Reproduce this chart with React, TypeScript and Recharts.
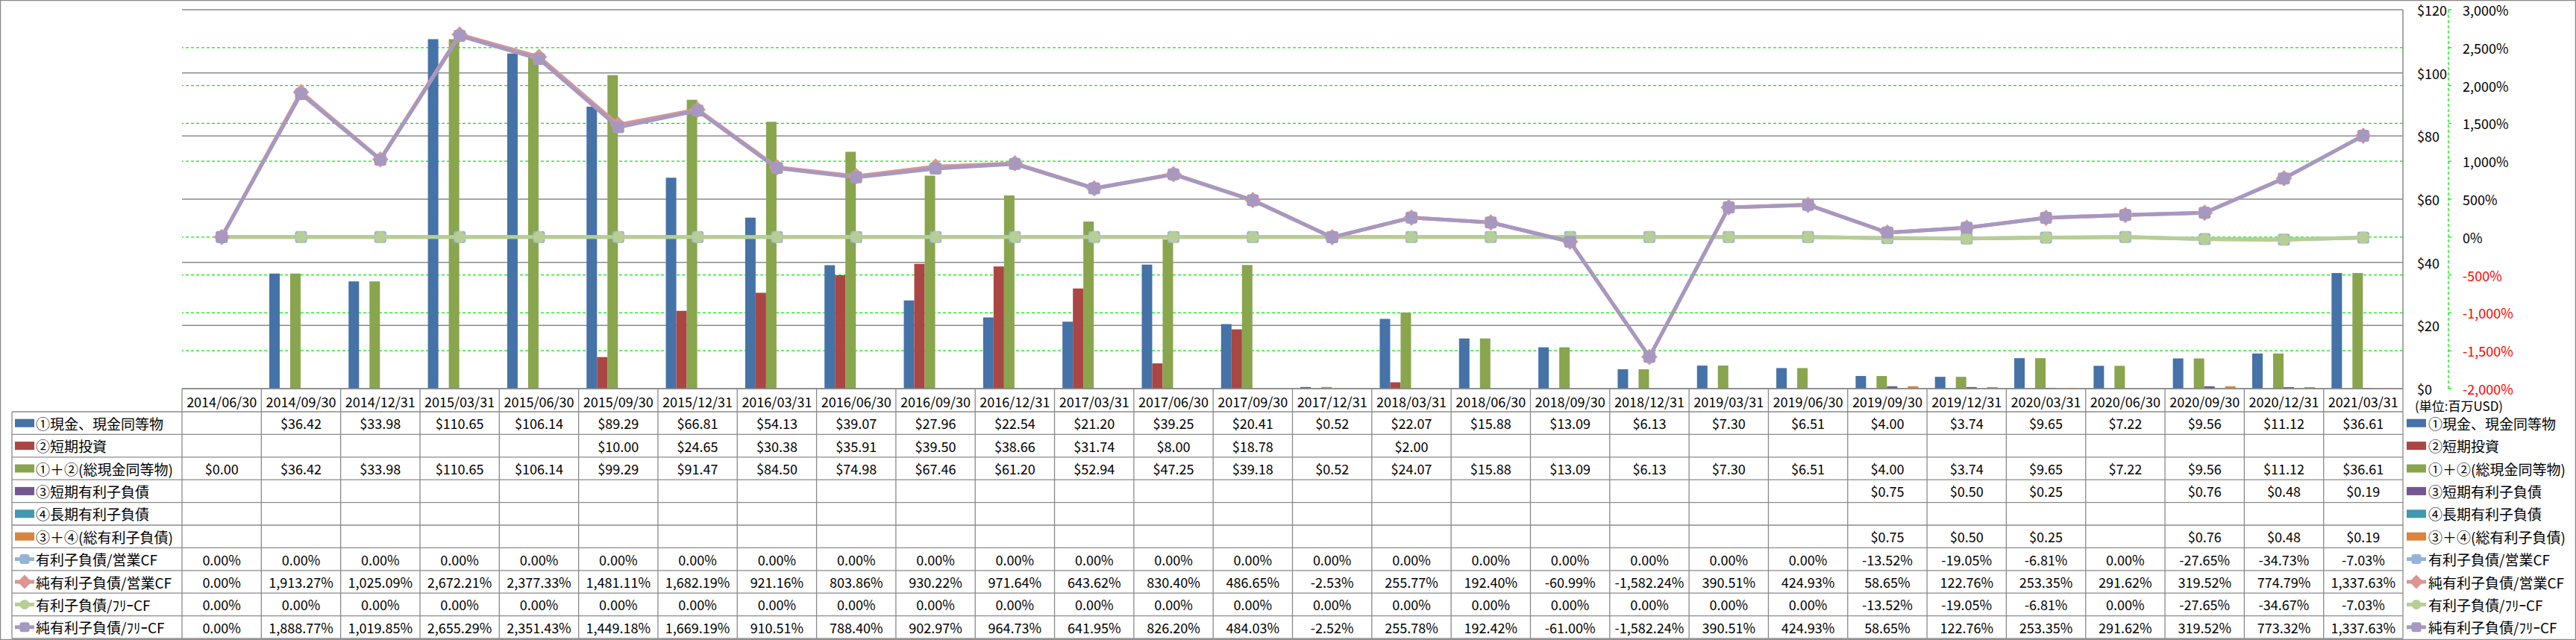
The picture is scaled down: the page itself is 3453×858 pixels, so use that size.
import React from 'react';
import { ComposedChart, Bar, Line, XAxis, YAxis, CartesianGrid, ReferenceLine } from 'recharts';

const dates = [
  '2014/06/30', '2014/09/30', '2014/12/31', '2015/03/31', '2015/06/30', '2015/09/30', '2015/12/31',
  '2016/03/31', '2016/06/30', '2016/09/30', '2016/12/31', '2017/03/31', '2017/06/30', '2017/09/30',
  '2017/12/31', '2018/03/31', '2018/06/30', '2018/09/30', '2018/12/31', '2019/03/31', '2019/06/30',
  '2019/09/30', '2019/12/31', '2020/03/31', '2020/06/30', '2020/09/30', '2020/12/31', '2021/03/31',
];

const cash = [null, 36.42, 33.98, 110.65, 106.14, 89.29, 66.81, 54.13, 39.07, 27.96, 22.54, 21.2, 39.25, 20.41,
  0.52, 22.07, 15.88, 13.09, 6.13, 7.3, 6.51, 4.0, 3.74, 9.65, 7.22, 9.56, 11.12, 36.61];
const shortInvest = [null, null, null, null, null, 10.0, 24.65, 30.38, 35.91, 39.5, 38.66, 31.74, 8.0, 18.78,
  null, 2.0, null, null, null, null, null, null, null, null, null, null, null, null];
const totalCash = [0.0, 36.42, 33.98, 110.65, 106.14, 99.29, 91.47, 84.5, 74.98, 67.46, 61.2, 52.94, 47.25, 39.18,
  0.52, 24.07, 15.88, 13.09, 6.13, 7.3, 6.51, 4.0, 3.74, 9.65, 7.22, 9.56, 11.12, 36.61];
const shortDebt = [null, null, null, null, null, null, null, null, null, null, null, null, null, null,
  null, null, null, null, null, null, null, 0.75, 0.5, 0.25, null, 0.76, 0.48, 0.19];
const longDebt = [null, null, null, null, null, null, null, null, null, null, null, null, null, null,
  null, null, null, null, null, null, null, null, null, null, null, null, null, null];
const totalDebt = [null, null, null, null, null, null, null, null, null, null, null, null, null, null,
  null, null, null, null, null, null, null, 0.75, 0.5, 0.25, null, 0.76, 0.48, 0.19];

const debtOpCF = [0, 0, 0, 0, 0, 0, 0, 0, 0, 0, 0, 0, 0, 0,
  0, 0, 0, 0, 0, 0, 0, -13.52, -19.05, -6.81, 0, -27.65, -34.73, -7.03];
const netDebtOpCF = [0, 1913.27, 1025.09, 2672.21, 2377.33, 1481.11, 1682.19, 921.16, 803.86, 930.22, 971.64, 643.62, 830.4, 486.65,
  -2.53, 255.77, 192.4, -60.99, -1582.24, 390.51, 424.93, 58.65, 122.76, 253.35, 291.62, 319.52, 774.79, 1337.63];
const debtFreeCF = [0, 0, 0, 0, 0, 0, 0, 0, 0, 0, 0, 0, 0, 0,
  0, 0, 0, 0, 0, 0, 0, -13.52, -19.05, -6.81, 0, -27.65, -34.67, -7.03];
const netDebtFreeCF = [0, 1888.77, 1019.85, 2655.29, 2351.43, 1449.18, 1669.19, 910.51, 788.4, 902.97, 964.73, 641.95, 826.2, 484.03,
  -2.52, 255.78, 192.42, -61.0, -1582.24, 390.51, 424.93, 58.65, 122.76, 253.35, 291.62, 319.52, 773.32, 1337.63];

const usdTicks = [0, 20, 40, 60, 80, 100, 120];
const pctTicks = [-2000, -1500, -1000, -500, 0, 500, 1000, 1500, 2000, 2500, 3000];

const rowLabels = [
  '①現金、現金同等物', '②短期投資', '①＋②(総現金同等物)', '③短期有利子負債', '④長期有利子負債',
  '③＋④(総有利子負債)', '有利子負債/営業CF', '純有利子負債/営業CF', '有利子負債/ﾌﾘｰCF', '純有利子負債/ﾌﾘｰCF',
];
const unitLabel = '(単位:百万USD)';

// layout
const W = 3453;
const H = 858;
const PLOT_L = 244;
const PLOT_R = 3221;
const PLOT_T = 13;
const PLOT_B = 521;
const TABLE_TOP = 552;
const ROW_H = 30.4;
const LABEL_L = 16;
const USD_AXIS_W = 61;
const PCT_AXIS_W = 120;
const FONT = "'Noto Sans CJK JP', 'Noto Sans', sans-serif";
const GRID = '#8A8A8A';
const GREEN = '#00EE00';

const USD_DOMAIN = [0, 120];
const PCT_DOMAIN = [-2000, 3000];

const fmtUsd = (v: number) => '$' + v.toFixed(2);
const fmtPct = (v: number) =>
  v.toLocaleString('en-US', { minimumFractionDigits: 2, maximumFractionDigits: 2 }) + '%';

type RowKind = 'bar' | 'square' | 'diamond' | 'circle';
const rows: { key: string; values: (number | null)[]; color: string; kind: RowKind; fmt: (v: number) => string }[] = [
  { key: 'cash', values: cash, color: '#4572A7', kind: 'bar', fmt: fmtUsd },
  { key: 'shortInvest', values: shortInvest, color: '#AA4643', kind: 'bar', fmt: fmtUsd },
  { key: 'totalCash', values: totalCash, color: '#89A54E', kind: 'bar', fmt: fmtUsd },
  { key: 'shortDebt', values: shortDebt, color: '#71588F', kind: 'bar', fmt: fmtUsd },
  { key: 'longDebt', values: longDebt, color: '#4198AF', kind: 'bar', fmt: fmtUsd },
  { key: 'totalDebt', values: totalDebt, color: '#DB843D', kind: 'bar', fmt: fmtUsd },
  { key: 'debtOpCF', values: debtOpCF, color: '#95B3D7', kind: 'square', fmt: fmtPct },
  { key: 'netDebtOpCF', values: netDebtOpCF, color: '#DC9593', kind: 'diamond', fmt: fmtPct },
  { key: 'debtFreeCF', values: debtFreeCF, color: '#B7CE94', kind: 'circle', fmt: fmtPct },
  { key: 'netDebtFreeCF', values: netDebtFreeCF, color: '#A698C0', kind: 'square', fmt: fmtPct },
];

const data = dates.map((d, i) => {
  const o: Record<string, any> = { date: d };
  rows.forEach((r) => (o[r.key] = r.values[i]));
  return o;
});

// dashed % gridlines that do not fall on a solid $ gridline
const pctGridTicks = pctTicks.filter((t) => {
  const asUsd = ((t - PCT_DOMAIN[0]) / (PCT_DOMAIN[1] - PCT_DOMAIN[0])) * (USD_DOMAIN[1] - USD_DOMAIN[0]);
  return !usdTicks.some((u) => Math.abs(u - asUsd) < 0.01);
});

const Marker = ({ kind, cx, cy, color, size = 16 }: { kind: RowKind; cx: number; cy: number; color: string; size?: number }) => {
  const h = size / 2;
  if (kind === 'diamond') {
    const s = h + 3;
    return <polygon points={`${cx},${cy - s} ${cx + s},${cy} ${cx},${cy + s} ${cx - s},${cy}`} fill={color} />;
  }
  if (kind === 'circle') return <ellipse cx={cx} cy={cy} rx={h} ry={h} fill={color} />;
  return <rect x={cx - h} y={cy - h} width={size} height={size} rx={3} fill={color} />;
};

const makeDot = (kind: RowKind, color: string) => (p: any) => {
  if (p.cx == null || p.cy == null || p.value == null) return <g key={`d${p.index}`} />;
  return (
    <g key={`d${p.index}`}>
      <Marker kind={kind} cx={p.cx} cy={p.cy} color={color} />
    </g>
  );
};

const RowIcon = ({ x, y, row }: { x: number; y: number; row: (typeof rows)[number] }) => {
  if (row.kind === 'bar') return <rect x={x} y={y - 5.5} width={26} height={11} fill={row.color} />;
  return (
    <g>
      <line x1={x} x2={x + 26} y1={y} y2={y} stroke={row.color} strokeWidth={5} />
      <Marker kind={row.kind} cx={x + 13} cy={y} color={row.color} size={13} />
    </g>
  );
};

const TableTick = (props: any) => {
  const { x, payload } = props;
  const i = payload.index;
  const band = (PLOT_R - PLOT_L) / dates.length;
  const bottom = TABLE_TOP + ROW_H * rows.length;
  return (
    <g>
      <text x={x} y={(PLOT_B + TABLE_TOP) / 2 + 1} textAnchor="middle" dominantBaseline="central"
        fontSize={18} fontFamily={FONT} fill="#000">{payload.value}</text>
      <line x1={x + band / 2} x2={x + band / 2} y1={PLOT_B} y2={bottom} stroke={GRID} strokeWidth={1.3} />
      {rows.map((r, ri) => {
        const v = r.values[i];
        if (v == null) return null;
        return (
          <text key={r.key} x={x} y={TABLE_TOP + ROW_H * (ri + 0.5)} textAnchor="middle" dominantBaseline="central"
            fontSize={18} fontFamily={FONT} fill="#000">{r.fmt(v)}</text>
        );
      })}
    </g>
  );
};

const PctTick = (p: any) => {
  const v = p.payload.value as number;
  return (
    <text x={p.x} y={p.y} textAnchor="start" dominantBaseline="central" fontSize={18} fontFamily={FONT}
      fill={v < 0 ? '#FF0000' : '#000'}>{v.toLocaleString('en-US') + '%'}</text>
  );
};

const UsdTick = (p: any) => (
  <text x={p.x} y={p.y} textAnchor="start" dominantBaseline="central" fontSize={18} fontFamily={FONT} fill="#000">
    {'$' + p.payload.value}
  </text>
);

const Overlay = () => {
  const bottom = TABLE_TOP + ROW_H * rows.length;
  return (
    <svg width={W} height={H} style={{ position: 'absolute', left: 0, top: 0, pointerEvents: 'none' }}>
      <rect x={0.5} y={0.5} width={W - 1} height={H - 1} fill="none" stroke={GRID} strokeWidth={1.5} />
      <line x1={PLOT_R} x2={PLOT_R} y1={PLOT_T} y2={PLOT_B} stroke={GRID} strokeWidth={1.5} />
      <line x1={LABEL_L} x2={LABEL_L} y1={TABLE_TOP} y2={bottom} stroke={GRID} strokeWidth={1.3} />
      <line x1={PLOT_L} x2={PLOT_L} y1={PLOT_B} y2={bottom} stroke={GRID} strokeWidth={1.3} />
      {rows.map((r, ri) => (
        <line key={'h' + ri} x1={LABEL_L} x2={PLOT_R} y1={TABLE_TOP + ROW_H * ri} y2={TABLE_TOP + ROW_H * ri}
          stroke={GRID} strokeWidth={1.3} />
      ))}
      <line x1={LABEL_L} x2={PLOT_R} y1={bottom} y2={bottom} stroke={GRID} strokeWidth={1.3} />
      {rows.map((r, ri) => {
        const cy = TABLE_TOP + ROW_H * (ri + 0.5);
        return (
          <g key={'l' + ri}>
            <RowIcon x={20} y={cy} row={r} />
            <text x={48} y={cy} dominantBaseline="central" fontSize={19} fontFamily={FONT} fill="#000">{rowLabels[ri]}</text>
            <RowIcon x={3226} y={cy} row={r} />
            <text x={3255} y={cy} dominantBaseline="central" fontSize={19} fontFamily={FONT} fill="#000">{rowLabels[ri]}</text>
          </g>
        );
      })}
      <text x={3237} y={543} dominantBaseline="central" fontSize={17} fontFamily={FONT} fill="#000">{unitLabel}</text>
    </svg>
  );
};

export default function App() {
  const xAxisH = 300;
  return (
    <div style={{ position: 'absolute', left: 0, top: 0, width: W, height: H, background: '#fff' }}>
      <ComposedChart
        width={W}
        height={H}
        data={data}
        barCategoryGap="10%"
        barGap={0}
        margin={{ top: PLOT_T, left: PLOT_L, right: W - PLOT_R - USD_AXIS_W - PCT_AXIS_W, bottom: H - PLOT_B - xAxisH }}
      >
        <CartesianGrid yAxisId="a1" vertical={false} stroke={GRID} strokeWidth={1.5} />
        <XAxis dataKey="date" height={xAxisH} interval={0} tickLine={false} axisLine={{ stroke: GRID, strokeWidth: 1.5 }}
          tick={<TableTick />} />
        <YAxis yAxisId="a1" orientation="right" width={USD_AXIS_W} domain={USD_DOMAIN} ticks={usdTicks}
          axisLine={false} tickLine={false} tickMargin={13} tick={<UsdTick />} />
        <YAxis yAxisId="a2" orientation="right" width={PCT_AXIS_W} domain={PCT_DOMAIN} ticks={pctTicks}
          axisLine={{ stroke: GREEN, strokeDasharray: '4 3', strokeWidth: 1.3 }}
          tickLine={{ stroke: GREEN, strokeWidth: 1.3 }} tickSize={4} tickMargin={15} tick={<PctTick />} />
        {pctGridTicks.map((t) => (
          <ReferenceLine key={'p' + t} yAxisId="a2" y={t} stroke={GREEN} strokeDasharray="4 3" strokeWidth={1.3}
            zIndex={-50} />
        ))}
        {rows.filter((r) => r.kind === 'bar').map((r) => (
          <Bar key={r.key} yAxisId="a1" dataKey={r.key} fill={r.color} isAnimationActive={false} />
        ))}
        {rows.filter((r) => r.kind !== 'bar').map((r) => (
          <Line key={r.key} yAxisId="a2" dataKey={r.key} stroke={r.color} strokeWidth={5} type="linear"
            dot={makeDot(r.kind, r.color)} activeDot={false} isAnimationActive={false} />
        ))}
      </ComposedChart>
      <Overlay />
    </div>
  );
}
